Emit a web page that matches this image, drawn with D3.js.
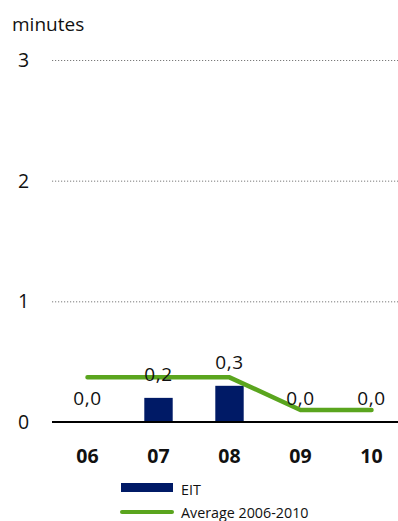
<!DOCTYPE html>
<html>
<head>
<meta charset="utf-8">
<script src="https://cdn.jsdelivr.net/npm/d3@7"></script>
<style>
  html, body { margin: 0; padding: 0; background: #fff; }
  svg { display: block; font-family: "Open Sans", "Noto Sans", sans-serif; }
</style>
</head>
<body>
<svg id="chart" width="398" height="521"></svg>
<script>
// Years on the x axis
const categories = ["06", "07", "08", "09", "10"];
// EIT minutes per year
const eitValues = [0.0, 0.2, 0.3, 0.0, 0.0];
// Average 2006-2010 line
const averageValues = [0.37, 0.37, 0.37, 0.1, 0.1];
// Value labels shown above each year
const valueLabels = ["0,0", "0,2", "0,3", "0,0", "0,0"];
const yTicks = [0, 1, 2, 3];

const svg = d3.select("#chart");
const plotLeft = 52, plotRight = 407, plotTop = 60, plotBottom = 422;

const x = d3.scaleBand().domain(categories).range([plotLeft, plotRight])
  .paddingInner(0.6).paddingOuter(0.3);
const y = d3.scaleLinear().domain([0, 3]).range([plotBottom, plotTop]);

// Dotted gridlines
svg.append("g").selectAll("line").data(yTicks.filter(d => d > 0)).join("line")
  .attr("x1", plotLeft).attr("x2", 398)
  .attr("y1", d => y(d) + 0.5).attr("y2", d => y(d) + 0.5)
  .attr("stroke", "#7a7a7a").attr("stroke-width", 1)
  .attr("stroke-dasharray", "1.2,1.8");

// Y tick labels
svg.append("g").selectAll("text").data(yTicks).join("text")
  .attr("x", 23.5).attr("y", d => y(d))
  .attr("dy", "0.36em").attr("text-anchor", "middle")
  .attr("font-size", 19.5).attr("fill", "#111")
  .text(d => d);

// Unit label
svg.append("text").attr("x", 12).attr("y", 31)
  .attr("font-size", 19).attr("fill", "#111").text("minutes");

// Bars
svg.append("g").selectAll("rect").data(eitValues).join("rect")
  .attr("x", (d, i) => x(categories[i]))
  .attr("width", x.bandwidth())
  .attr("y", d => y(d))
  .attr("height", d => y(0) - y(d))
  .attr("fill", "#001a66");

// Average line
const line = d3.line()
  .x((d, i) => x(categories[i]) + x.bandwidth() / 2)
  .y(d => y(d));
svg.append("path").datum(averageValues)
  .attr("d", line)
  .attr("fill", "none").attr("stroke", "#5aa51e")
  .attr("stroke-width", 4.5).attr("stroke-linecap", "round")
  .attr("stroke-linejoin", "round");

// Value labels
svg.append("g").selectAll("text").data(eitValues).join("text")
  .attr("x", (d, i) => x(categories[i]) + x.bandwidth() / 2)
  .attr("y", d => y(d) - 17)
  .attr("text-anchor", "middle")
  .attr("font-size", 19).attr("letter-spacing", 0.6).attr("fill", "#111")
  .text((d, i) => valueLabels[i]);

// Baseline axis
svg.append("line")
  .attr("x1", plotLeft).attr("x2", 398)
  .attr("y1", y(0)).attr("y2", y(0))
  .attr("stroke", "#000").attr("stroke-width", 2.2);

// X tick labels
svg.append("g").selectAll("text").data(categories).join("text")
  .attr("x", d => x(d) + x.bandwidth() / 2)
  .attr("y", 463)
  .attr("text-anchor", "middle")
  .attr("font-size", 19.5).attr("font-weight", "bold").attr("fill", "#111")
  .text(d => d);

// Legend
const legend = svg.append("g");
legend.append("rect").attr("x", 121).attr("y", 483).attr("width", 52).attr("height", 9)
  .attr("fill", "#001a66");
legend.append("text").attr("x", 181).attr("y", 495)
  .attr("font-size", 14.3).attr("fill", "#111").text("EIT");
legend.append("line").attr("x1", 122).attr("x2", 172).attr("y1", 512).attr("y2", 512)
  .attr("stroke", "#5aa51e").attr("stroke-width", 4).attr("stroke-linecap", "round");
legend.append("text").attr("x", 181).attr("y", 518)
  .attr("font-size", 14.3).attr("fill", "#111").text("Average 2006-2010");
</script>
</body>
</html>
